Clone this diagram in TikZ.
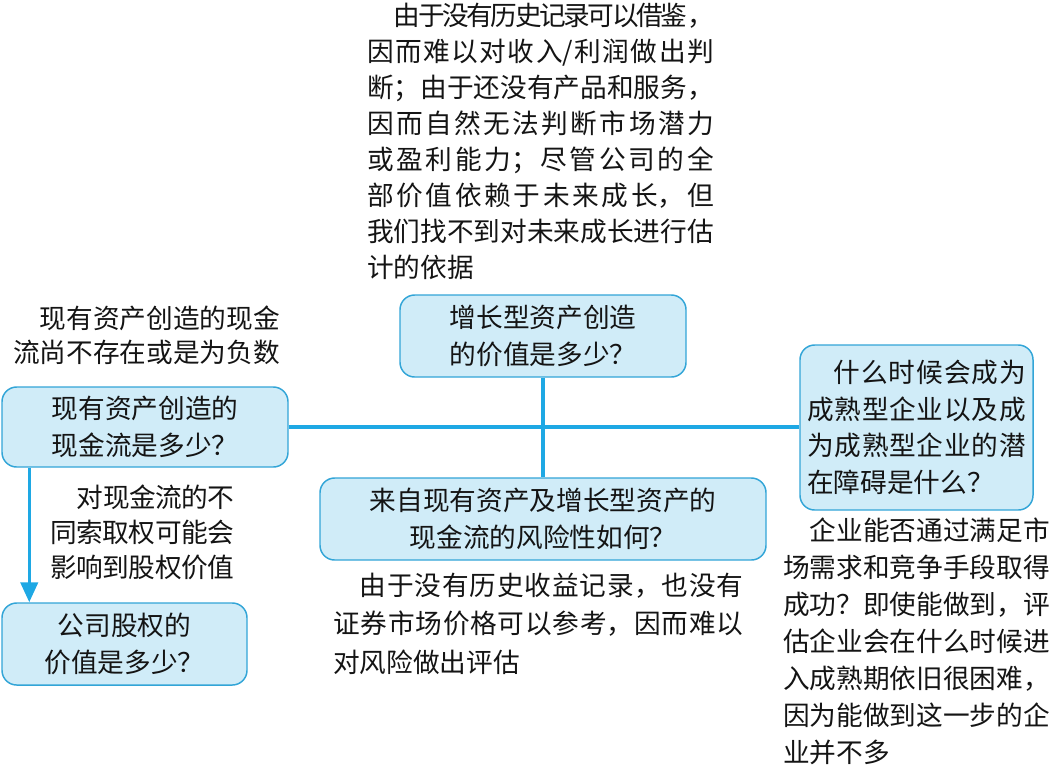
\documentclass[tikz,border=0pt]{standalone}
\usepackage{fontspec}
\usepackage{xcolor}
\usepackage{tikz}
\usetikzlibrary{arrows.meta, positioning}
\newfontfamily\cjkfont{Noto Sans CJK SC}
\XeTeXlinebreaklocale "zh"
\XeTeXlinebreakskip=0pt plus 2pt minus 2pt
\hbadness=10000
\definecolor{myblue}{RGB}{30,168,228}
\definecolor{myedge}{RGB}{50,165,215}
\definecolor{myfill}{RGB}{208,236,248}
\definecolor{mytext}{RGB}{20,20,20}
\tikzset{
  qbox/.style={rectangle, draw=myedge, fill=myfill, text=mytext,
    rounded corners=11pt, line width=1.1pt, inner sep=0pt, align=center,
    font=\cjkfont\fontsize{20pt}{27.5pt}\selectfont},
  note/.style={inner sep=0pt, align=justify, anchor=base west, text=mytext,
    font=\cjkfont\fontsize{20pt}{#1}\selectfont},
  note/.default=27pt,
  link/.style={line width=2.5pt, color=myblue},
  flowarrow/.style={-{Triangle[length=15pt,width=13pt]}, line width=2.5pt, color=myblue}
}

\begin{document}
\begin{tikzpicture}[x=0.75pt, y=-0.75pt]
  \useasboundingbox (0,0) rectangle (1055,765);

  % Question boxes
  \node[qbox, minimum width=214.5pt, minimum height=61.5pt] (growthbox) at (543,336)
    {增长型资产创造\\的价值是多少？};
  \node[qbox, minimum width=334.5pt, minimum height=61.5pt] (riskbox) at (543,519)
    {来自现有资产及增长型资产的\\现金流的风险性如何？};
  \node[qbox, minimum width=214.5pt, minimum height=60pt] (cfbox) at (145,427)
    {现有资产创造的\\现金流是多少？};
  \node[qbox, minimum width=183.75pt, minimum height=61.5pt] (equitybox) at (124.5,644)
    {公司股权的\\价值是多少？};
  \node[qbox, align=justify, text width=164pt, minimum width=174.75pt,
    minimum height=123.75pt] (maturebox) at (916.5,427.5)
    {\noindent\hspace*{1em}什么时候会成为\linebreak
     成熟型企业以及成\linebreak
     为成熟型企业的潜\linebreak
     在障碍是什么？};

  % Notes
  \node[note, text width=260pt] (topnote) at (367,25)
    {\noindent\hspace*{1em}由于没有历史记录可以借鉴，\linebreak
     因而难以对收入/利润做出判\linebreak
     断；由于还没有产品和服务，\linebreak
     因而自然无法判断市场潜力\linebreak
     或盈利能力；尽管公司的全\linebreak
     部价值依赖于未来成长，但\linebreak
     我们找不到对未来成长进行估\linebreak
     计的依据};
  \node[note=25.5pt, text width=200pt] (cfnote) at (13,328)
    {\noindent\hspace*{1em}现有资产创造的现金\linebreak
     流尚不存在或是为负数};
  \node[note=26.6pt, text width=138pt] (claimnote) at (50,507)
    {\noindent\hspace*{1em}对现金流的不\linebreak
     同索取权可能会\linebreak
     影响到股权价值};
  \node[note=28.9pt, text width=307.5pt] (risknote) at (333,595)
    {\noindent\hspace*{1em}由于没有历史收益记录，也没有\linebreak
     证券市场价格可以参考，因而难以\linebreak
     对风险做出评估};
  \node[note=27.75pt, text width=200pt] (maturenote) at (783,540)
    {\noindent\hspace*{1em}企业能否通过满足市\linebreak
     场需求和竞争手段取得\linebreak
     成功？即使能做到，评\linebreak
     估企业会在什么时候进\linebreak
     入成熟期依旧很困难，\linebreak
     因为能做到这一步的企\linebreak
     业并不多};

  % Connectors
  \draw[link] (cfbox.east) -- (cfbox.east -| maturebox.west);
  \draw[link] (growthbox.south) -- (riskbox.north);
  \draw[flowarrow] ([xshift=21pt]cfbox.south west) -- ([xshift=21pt]equitybox.north west);
\end{tikzpicture}
\end{document}
